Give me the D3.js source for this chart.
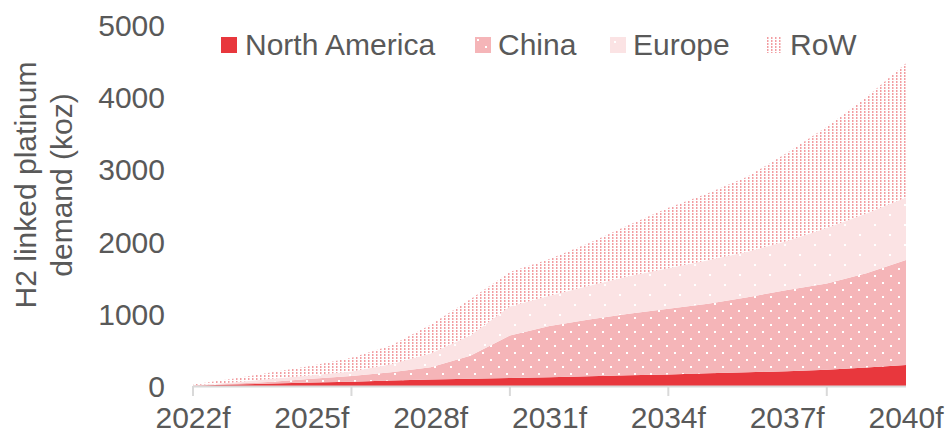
<!DOCTYPE html>
<html>
<head>
<meta charset="utf-8">
<script src="https://cdn.jsdelivr.net/npm/d3@7"></script>
<style>
  html, body { margin: 0; padding: 0; background: #fff; }
  svg { display: block; font-family: "Liberation Sans", Arial, sans-serif; }
</style>
</head>
<body>
<svg id="chart" width="949" height="435"></svg>
<script>
// ---- data ----
const years = ["2022f","2023f","2024f","2025f","2026f","2027f","2028f","2029f","2030f","2031f",
               "2032f","2033f","2034f","2035f","2036f","2037f","2038f","2039f","2040f"];
const seriesNames = ["North America", "China", "Europe", "RoW"];
const northAmerica = [2, 20, 35, 50, 60, 75, 90, 100, 110, 120, 135, 150, 160, 175, 190, 205, 225, 255, 290];
const china        = [3, 10, 25, 50, 80, 115, 170, 320, 590, 710, 785, 850, 910, 965, 1040, 1125, 1195, 1305, 1455];
const europe       = [5, 20, 40, 50, 60, 110, 190, 280, 400, 420, 470, 520, 560, 600, 630, 680, 770, 830, 865];
const row          = [10, 50, 90, 130, 190, 260, 400, 500, 480, 510, 590, 710, 840, 930, 1040, 1220, 1400, 1610, 1860];
const yTicks = [0, 1000, 2000, 3000, 4000, 5000];
const xLabelYears = ["2022f","2025f","2028f","2031f","2034f","2037f","2040f"];
const xTickMarkYears = ["2022f","2026f","2030f","2034f","2038f"];
const yTitleLines = ["H2 linked platinum", "demand (koz)"];

// ---- build table ----
const table = years.map((y, i) => ({
  year: y,
  "North America": northAmerica[i],
  "China": china[i],
  "Europe": europe[i],
  "RoW": row[i]
}));

const svg = d3.select("#chart");
const textColor = "#595959";
const fontSize = 30;

// patterns
const defs = svg.append("defs");
const pChina = defs.append("pattern").attr("id", "pChina").attr("patternUnits", "userSpaceOnUse")
  .attr("width", 16).attr("height", 14);
pChina.append("rect").attr("width", 16).attr("height", 14).attr("fill", "#F5B5B8");
pChina.append("rect").attr("x", 2).attr("y", 2).attr("width", 2).attr("height", 2).attr("fill", "#ffffff");
pChina.append("rect").attr("x", 10).attr("y", 9).attr("width", 2).attr("height", 2).attr("fill", "#ffffff");
const pEurope = defs.append("pattern").attr("id", "pEurope").attr("patternUnits", "userSpaceOnUse")
  .attr("width", 30).attr("height", 20);
pEurope.append("rect").attr("width", 30).attr("height", 20).attr("fill", "#FBE3E4");
pEurope.append("rect").attr("x", 4).attr("y", 4).attr("width", 2).attr("height", 2).attr("fill", "#ffffff");
pEurope.append("rect").attr("x", 19).attr("y", 14).attr("width", 2).attr("height", 2).attr("fill", "#ffffff");
const pRow = defs.append("pattern").attr("id", "pRow").attr("patternUnits", "userSpaceOnUse")
  .attr("width", 4).attr("height", 3);
pRow.append("rect").attr("width", 4).attr("height", 3).attr("fill", "#ffffff");
pRow.append("rect").attr("x", 0).attr("y", 0).attr("width", 1.5).attr("height", 2).attr("fill", "#F29DA1");

const fills = {
  "North America": "#E8373D",
  "China": "url(#pChina)",
  "Europe": "url(#pEurope)",
  "RoW": "url(#pRow)"
};

// ---- scales ----
const x = d3.scalePoint().domain(years).range([193, 906]);
const y = d3.scaleLinear().domain([0, 5000]).range([386, 25]);

// ---- stack ----
const stacked = d3.stack().keys(seriesNames)(table);
const area = d3.area()
  .x(d => x(d.data.year))
  .y0(d => y(d[0]))
  .y1(d => y(d[1]))
  .curve(d3.curveLinear);

svg.append("g").selectAll("path")
  .data(stacked)
  .join("path")
  .attr("d", area)
  .attr("fill", d => fills[d.key]);

// ---- x axis ----
const xAxisG = svg.append("g");
xAxisG.append("line")
  .attr("x1", x(years[0])).attr("x2", x(years[years.length - 1]))
  .attr("y1", y(0) + 0.5).attr("y2", y(0) + 0.5)
  .attr("stroke", "#D9D9D9").attr("stroke-width", 2);
xAxisG.selectAll("line.tick")
  .data(xTickMarkYears)
  .join("line")
  .attr("class", "tick")
  .attr("x1", d => x(d)).attr("x2", d => x(d))
  .attr("y1", y(0)).attr("y2", y(0) + 10)
  .attr("stroke", "#D9D9D9").attr("stroke-width", 2);
xAxisG.selectAll("text")
  .data(xLabelYears)
  .join("text")
  .attr("x", d => x(d))
  .attr("y", 428)
  .attr("text-anchor", "middle")
  .attr("fill", textColor)
  .attr("font-size", fontSize)
  .text(d => d);

// ---- y axis labels ----
svg.append("g").selectAll("text")
  .data(yTicks)
  .join("text")
  .attr("x", 165)
  .attr("y", d => y(d) + 11)
  .attr("text-anchor", "end")
  .attr("fill", textColor)
  .attr("font-size", fontSize)
  .text(d => d);

// ---- y title ----
const yt = svg.append("text")
  .attr("transform", "translate(0,185) rotate(-90)")
  .attr("text-anchor", "middle")
  .attr("fill", textColor)
  .attr("font-size", fontSize);
yt.selectAll("tspan")
  .data(yTitleLines)
  .join("tspan")
  .attr("x", 0)
  .attr("y", (d, i) => 36 + i * 36)
  .text(d => d);

// ---- legend ----
const legendX = [221, 475, 610, 767];
const lg = svg.append("g").selectAll("g")
  .data(seriesNames)
  .join("g")
  .attr("transform", (d, i) => `translate(${legendX[i]},37)`);
lg.append("rect")
  .attr("width", 16).attr("height", 16)
  .attr("fill", d => fills[d]);
lg.append("text")
  .attr("x", d => d === "North America" ? 24 : 23)
  .attr("y", 18)
  .attr("fill", textColor)
  .attr("font-size", fontSize)
  .text(d => d);
</script>
</body>
</html>
